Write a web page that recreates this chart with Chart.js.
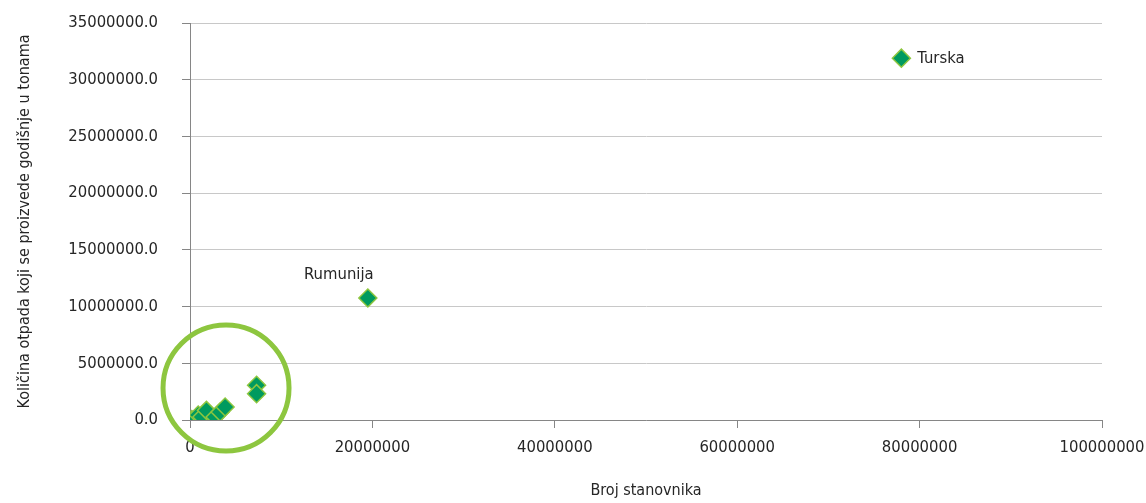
<!DOCTYPE html>
<html>
<head>
<meta charset="utf-8">
<script src="https://cdn.jsdelivr.net/npm/chart.js@4/dist/chart.umd.min.js"></script>
<style>
  html, body { margin: 0; padding: 0; background: #fff; }
  #wrap { width: 1146px; height: 503px; position: relative; }
</style>
</head>
<body>
<div id="wrap"><canvas id="c"></canvas></div>
<script>
// broj stanovnika / količina otpada (t)
const populacija = [78000000, 19500000, 7300000, 7300000, 200000, 900000, 1300000, 1800000, 2750000, 3300000, 3850000];
const otpad      = [31900000, 10750000, 3060000, 2320000, 30000, 440000, 260000, 850000, 260000, 700000, 1150000];
const nazivi     = ['Turska', 'Rumunija', '', '', '', '', '', '', '', '', ''];

// oznaka (krug) oko skupine malih zemalja
const krugCentar = [{ x: 3950000, y: 2820000 }];

const FONT = "'Liberation Sans Narrow', 'DejaVu Sans Condensed', sans-serif";
const TEXT = '#262626';
const SIZE = 16.5;

const labelPlugin = {
    id: 'nazivi',
    afterDatasetsDraw(chart) {
        const { ctx, scales } = chart;
        ctx.save();
        ctx.font = SIZE + 'px ' + FONT;
        ctx.fillStyle = TEXT;
        ctx.textBaseline = 'middle';
        nazivi.forEach((n, i) => {
            if (!n) return;
            const px = scales.x.getPixelForValue(populacija[i]);
            const py = scales.y.getPixelForValue(otpad[i]);
            if (i === 0) {
                ctx.textAlign = 'left';
                ctx.fillText(n, px + 16, py + 1);
            } else {
                ctx.textAlign = 'center';
                ctx.fillText(n, px - 29, py - 23);
            }
        });
        ctx.restore();
    }
};

new Chart(document.getElementById('c'), {
    type: 'scatter',
    data: {
        datasets: [{
            data: populacija.map((v, i) => ({ x: v, y: otpad[i] })),
            pointStyle: 'rectRot',
            pointRadius: 9,
            pointHoverRadius: 9,
            backgroundColor: '#009a5f',
            borderColor: '#8dc63f',
            borderWidth: 1.5
        }, {
            data: krugCentar,
            pointStyle: 'circle',
            pointRadius: 63,
            pointHoverRadius: 63,
            backgroundColor: 'rgba(0,0,0,0)',
            borderColor: '#8dc63f',
            borderWidth: 5,
            clip: false
        }]
    },
    options: {
        responsive: true,
        maintainAspectRatio: false,
        animation: false,
        layout: { autoPadding: false, padding: { top: 23, right: 44, left: 0, bottom: 0 } },
        plugins: { legend: { display: false }, tooltip: { enabled: false } },
        scales: {
            x: {
                type: 'linear',
                min: 0, max: 100000000,
                afterFit(axis) {
                    axis.height = 83;
                    axis.paddingLeft = 0;
                    axis.paddingRight = 0;
                },
                ticks: {
                    stepSize: 20000000,
                    color: TEXT,
                    font: { family: FONT, size: SIZE },
                    padding: 10,
                    maxRotation: 0,
                    callback: v => String(v)
                },
                grid: { display: true, drawOnChartArea: false, color: '#868686', tickLength: 8 },
                border: { color: '#868686', width: 1 },
                title: {
                    display: true,
                    text: 'Broj stanovnika',
                    color: TEXT,
                    font: { family: FONT, size: 16 },
                    padding: { top: 10, bottom: 3 }
                }
            },
            y: {
                type: 'linear',
                min: 0, max: 35000000,
                afterFit(axis) {
                    axis.width = 190;
                    axis.paddingTop = 0;
                    axis.paddingBottom = 0;
                },
                ticks: {
                    stepSize: 5000000,
                    color: TEXT,
                    font: { family: FONT, size: SIZE },
                    padding: 24,
                    callback: v => v.toFixed(1)
                },
                grid: { color: '#c8c8c8', tickColor: '#868686', tickLength: 8 },
                border: { color: '#868686', width: 1 },
                title: {
                    display: true,
                    text: 'Količina otpada koji se proizvede godišnje u tonama',
                    color: TEXT,
                    font: { family: FONT, size: 16 },
                    padding: { top: 15, bottom: 0 }
                }
            }
        }
    },
    plugins: [labelPlugin]
});
</script>
</body>
</html>
